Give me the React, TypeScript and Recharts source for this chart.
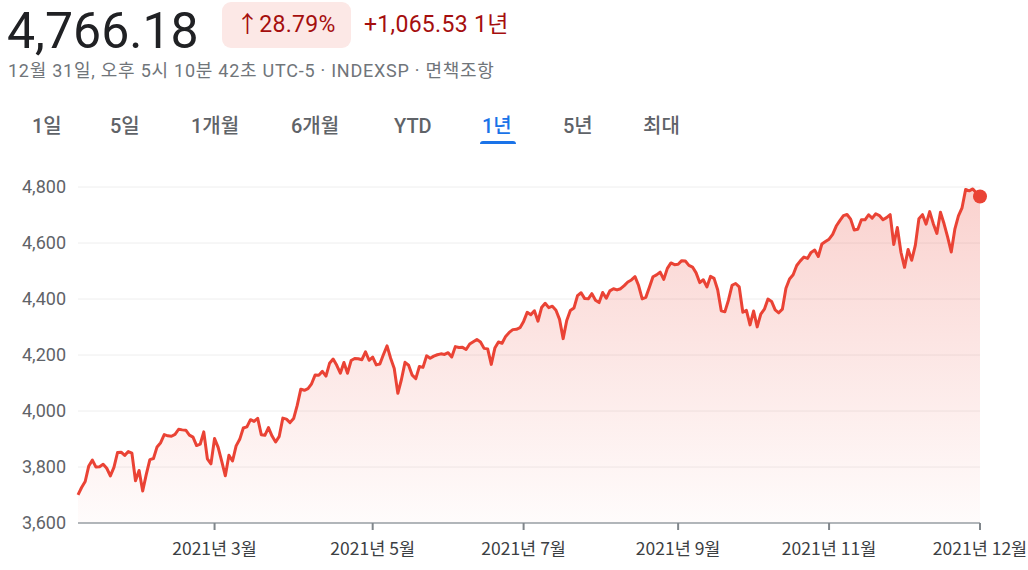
import React from "react";
import { AreaChart, Area, XAxis, YAxis, CartesianGrid, ReferenceDot } from "recharts";

// S&P 500 daily closes, 2021 (one value per trading day)
const jan = [3700.65, 3726.86, 3748.14, 3803.79, 3824.68, 3799.61, 3801.19, 3809.84, 3795.54, 3768.25, 3798.91, 3851.85, 3853.07, 3841.47, 3855.36, 3849.62, 3750.77, 3787.38, 3714.24];
const feb = [3773.86, 3826.31, 3830.17, 3871.74, 3886.83, 3915.59, 3911.23, 3909.88, 3916.38, 3934.83, 3932.59, 3931.33, 3913.97, 3906.71, 3876.5, 3881.37, 3925.43, 3829.34, 3811.15];
const mar = [3901.82, 3870.29, 3819.72, 3768.47, 3841.94, 3821.35, 3875.44, 3898.81, 3939.34, 3943.34, 3968.94, 3962.71, 3974.12, 3915.46, 3913.1, 3940.59, 3910.52, 3889.14, 3909.52, 3974.54, 3971.09, 3958.55, 3972.89];
const apr = [4019.87, 4077.91, 4073.94, 4079.95, 4097.17, 4128.8, 4127.99, 4141.59, 4124.66, 4170.42, 4185.47, 4163.26, 4134.94, 4173.42, 4134.98, 4180.17, 4187.62, 4186.72, 4183.18, 4211.47, 4181.17];
const may = [4192.66, 4164.66, 4167.59, 4201.62, 4232.6, 4188.43, 4152.1, 4063.04, 4112.5, 4173.85, 4163.29, 4127.83, 4115.68, 4159.12, 4155.86, 4197.05, 4188.13, 4195.99, 4200.88, 4204.11];
const jun = [4202.04, 4208.12, 4192.85, 4229.89, 4226.52, 4227.26, 4219.55, 4239.18, 4247.44, 4255.15, 4246.59, 4223.7, 4221.86, 4166.45, 4224.79, 4246.44, 4241.84, 4266.49, 4280.7, 4290.61, 4291.8, 4297.5];
const jul = [4319.94, 4352.34, 4343.54, 4358.13, 4320.82, 4369.55, 4384.63, 4369.21, 4374.3, 4360.03, 4327.16, 4258.49, 4323.06, 4358.69, 4367.48, 4411.79, 4422.3, 4401.46, 4400.64, 4419.15, 4395.26];
const aug = [4387.16, 4423.15, 4402.66, 4429.1, 4436.52, 4432.35, 4436.75, 4447.7, 4460.83, 4468.0, 4479.71, 4448.08, 4400.27, 4405.8, 4441.67, 4479.53, 4486.23, 4496.19, 4470.0, 4509.37, 4528.79, 4522.68];
const sep = [4524.09, 4536.95, 4535.43, 4520.03, 4514.07, 4493.28, 4458.58, 4468.73, 4443.05, 4480.7, 4473.75, 4432.99, 4357.73, 4354.19, 4395.64, 4448.98, 4455.48, 4443.11, 4352.63, 4359.46, 4307.54];
const oct = [4357.04, 4300.46, 4345.72, 4363.55, 4399.76, 4391.34, 4361.19, 4350.65, 4363.8, 4438.26, 4471.37, 4486.46, 4519.63, 4536.19, 4549.78, 4544.9, 4566.48, 4574.79, 4551.68, 4596.42, 4605.38];
const nov = [4613.67, 4630.65, 4660.57, 4680.06, 4697.53, 4701.7, 4685.25, 4646.71, 4649.27, 4682.85, 4682.8, 4700.9, 4688.67, 4704.54, 4697.96, 4682.94, 4690.7, 4701.46, 4594.62, 4655.27, 4567.0];
const dec = [4513.04, 4577.1, 4538.43, 4591.67, 4686.75, 4701.21, 4667.45, 4712.02, 4668.97, 4634.09, 4709.85, 4668.67, 4620.64, 4568.02, 4649.23, 4696.56, 4725.79, 4791.19, 4786.35, 4793.06, 4778.73, 4766.18];

const closes = [...jan, ...feb, ...mar, ...apr, ...may, ...jun, ...jul, ...aug, ...sep, ...oct, ...nov, ...dec];
const data = closes.map((v, i) => ({ i, v }));

// trading-day index of each x tick
const xTicks = [38, 82, 124, 167, 209, 251];
const xLabels = ["2021년 3월", "2021년 5월", "2021년 7월", "2021년 9월", "2021년 11월", "2021년 12월"];
const yTicks = [3600, 3800, 4000, 4200, 4400, 4600, 4800];

const tabs = ["1일", "5일", "1개월", "6개월", "YTD", "1년", "5년", "최대"];
const tabX = [32, 110, 191, 291, 394, 482, 563, 643];

const RED = "#ea4335";
const font = "Roboto, 'Noto Sans CJK KR', sans-serif";

const abs = (left: number, top: number, extra: React.CSSProperties = {}): React.CSSProperties => ({
  position: "absolute",
  left,
  top,
  whiteSpace: "nowrap",
  lineHeight: 1,
  ...extra,
});

export default function App() {
  const last = closes[closes.length - 1];
  return (
    <div style={{ position: "absolute", left: 0, top: 0, width: 1028, height: 570, background: "#fff", fontFamily: font, overflow: "hidden" }}>
      <div style={abs(7, 6, { fontSize: 50, color: "#202124" })}>4,766.18</div>
      <div style={abs(222, 2, { width: 129, height: 46, borderRadius: 9, background: "#fce8e6" })} />
      <div style={abs(236, 13, { fontSize: 23, color: "#a50e0e", letterSpacing: 0.3 })}>↑28.79%</div>
      <div style={abs(364, 13, { fontSize: 23, color: "#a50e0e", letterSpacing: 0.3 })}>+1,065.53 1년</div>
      <div style={abs(8, 62, { fontSize: 18, color: "#70757a", letterSpacing: 0.75 })}>
        12월 31일, 오후 5시 10분 42초 UTC-5 · INDEXSP · 면책조항
      </div>
      {tabs.map((t, k) => (
        <div
          key={t}
          style={abs(tabX[k], 116, {
            fontSize: 20,
            fontWeight: 500,
            color: t === "1년" ? "#1a73e8" : "#5f6368",
          })}
        >
          {t}
        </div>
      ))}
      <div style={abs(480, 141, { width: 36, height: 3, borderRadius: "3px 3px 0 0", background: "#1a73e8" })} />

      <div style={{ position: "absolute", left: 0, top: 0 }}>
        <AreaChart width={1028} height={570} data={data} margin={{ top: 187, right: 48, bottom: 17, left: 0 }}>
          <defs>
            <linearGradient id="fillRed" x1="0" y1="0" x2="0" y2="1">
              <stop offset="0%" stopColor={RED} stopOpacity={0.4} />
              <stop offset="100%" stopColor={RED} stopOpacity={0.03} />
            </linearGradient>
          </defs>
          <CartesianGrid vertical={false} stroke="#eeeeee" />
          <XAxis
            type="number"
            dataKey="i"
            domain={[0, 251]}
            ticks={xTicks}
            height={30}
            tickFormatter={(v: number) => xLabels[xTicks.indexOf(v)]}
            axisLine={{ stroke: "#9aa0a6", strokeWidth: 1.5 }}
            tickLine={{ stroke: "#80868b", strokeWidth: 2 }}
            tickSize={7}
            tickMargin={13}
            interval={0}
            tick={{ fill: "#3c4043", fontSize: 17.5, fontFamily: "'Liberation Sans Narrow', 'Noto Sans CJK KR', sans-serif" }}
          />
          <YAxis
            domain={[3600, 4800]}
            ticks={yTicks}
            width={78}
            axisLine={false}
            tickLine={false}
            tickMargin={6}
            tickFormatter={(v: number) => v.toLocaleString("en-US")}
            tick={{ fill: "#5f6368", fontSize: 18, fontFamily: font }}
            allowDataOverflow
          />
          <Area
            type="linear"
            dataKey="v"
            stroke={RED}
            strokeWidth={3}
            strokeLinejoin="round"
            fill="url(#fillRed)"
            isAnimationActive={false}
            dot={false}
            activeDot={false}
          />
          <ReferenceDot x={251} y={last} r={7} fill={RED} stroke="none" ifOverflow="visible" />
        </AreaChart>
      </div>
    </div>
  );
}
